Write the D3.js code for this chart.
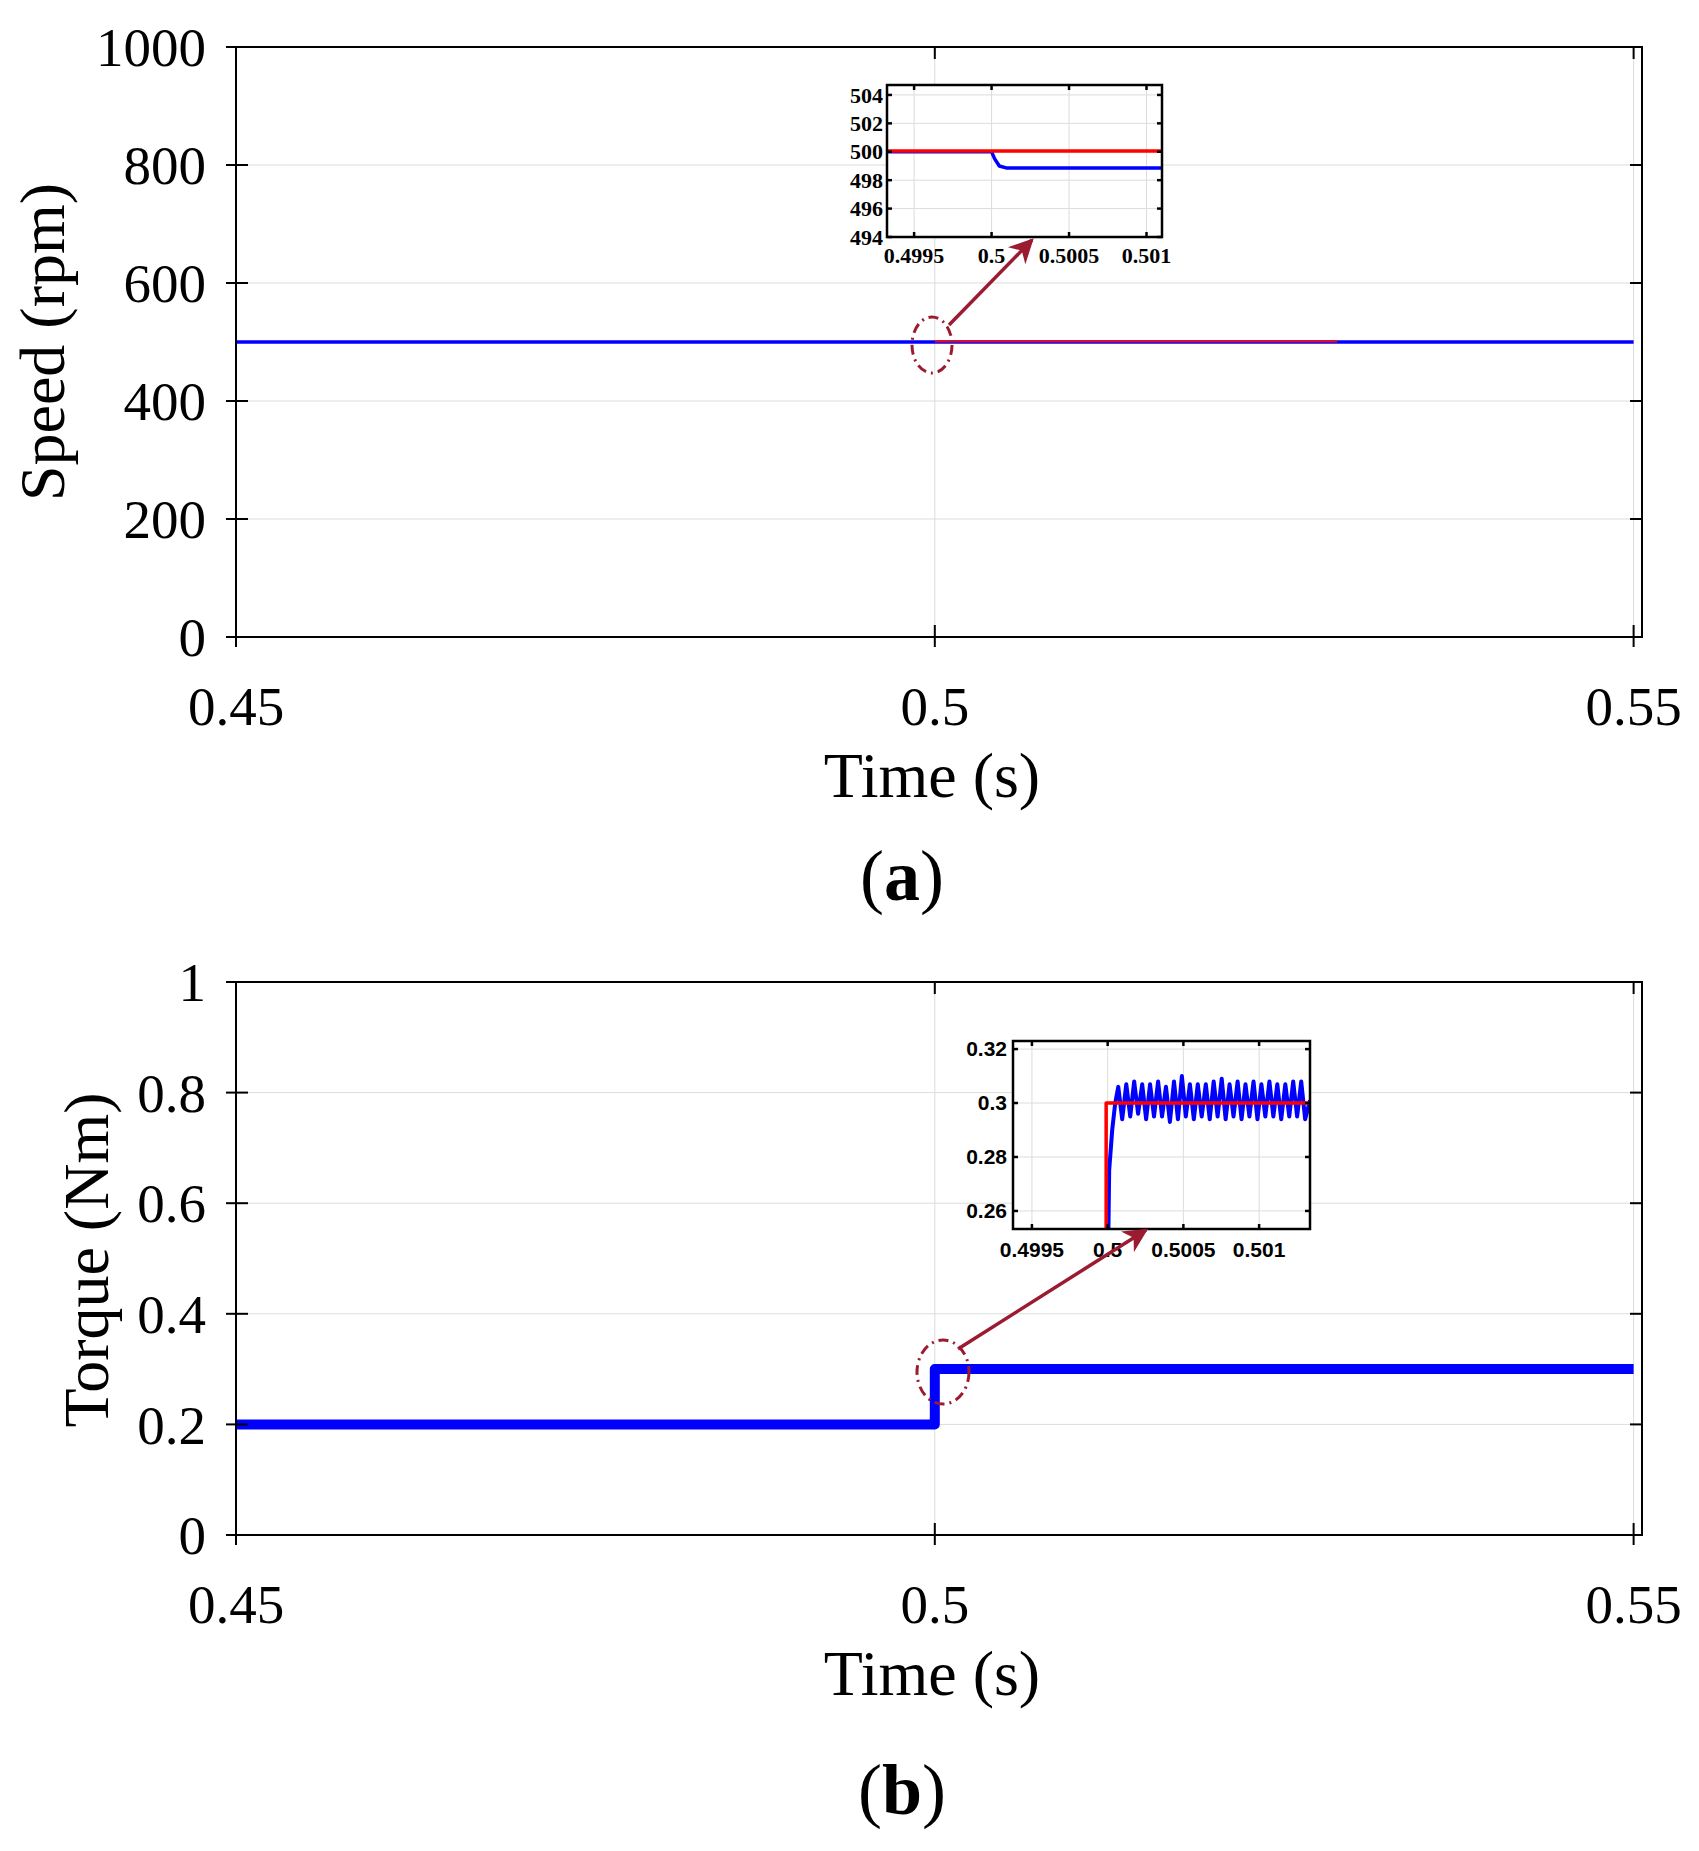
<!DOCTYPE html>
<html><head><meta charset="utf-8">
<script src="https://cdn.jsdelivr.net/npm/d3@7"></script>
<style>body{margin:0;background:#fff}</style>
</head><body>
<svg id="fig" width="1699" height="1851"></svg>
<script>
// ---- data ----
const xTicksMain = [0.45, 0.5, 0.55];
const speedTicks = [0, 200, 400, 600, 800, 1000];
const torqueTicks = [0, 0.2, 0.4, 0.6, 0.8, 1];
const speedBlue = [[0.45, 500], [0.55, 500]];
const speedRed = [[0.5, 501], [0.5288, 501]];
const torqueBlue = [[0.45, 0.2], [0.5, 0.2], [0.5, 0.3], [0.55, 0.3]];

const insetSpeedXTicks = [0.4995, 0.5, 0.5005, 0.501];
const insetSpeedYTicks = [494, 496, 498, 500, 502, 504];
const insetSpeedBlue = [[0.499325, 500], [0.5, 500], [0.50002, 499.5], [0.50005, 499.0], [0.5001, 498.85], [0.5011, 498.85]];
const insetSpeedRed = [[0.499325, 500.05], [0.5011, 500.05]];

const insetTorqueXTicks = [0.4995, 0.5, 0.5005, 0.501];
const insetTorqueYTicks = [0.26, 0.28, 0.3, 0.32];
const insetTorqueRed = [[0.49999, 0.25], [0.49999, 0.3], [0.501336, 0.3]];
const riseT = [0.500005, 0.50001, 0.50003, 0.50005];
const riseV = [0.253, 0.275, 0.29, 0.30];
const peakT = [0.500070,0.500123,0.500175,0.500228,0.500280,0.500333,0.500385,0.500438,0.500490,0.500543,0.500595,0.500648,0.500700,0.500753,0.500805,0.500858,0.500910,0.500963,0.501015,0.501068,0.501120,0.501173,0.501225,0.501278];
const peakV = [0.306,0.307,0.308,0.307,0.307,0.308,0.306,0.308,0.310,0.307,0.307,0.307,0.308,0.309,0.307,0.308,0.307,0.308,0.307,0.308,0.307,0.307,0.308,0.308];
const troughT = [0.500096,0.500149,0.500201,0.500254,0.500306,0.500359,0.500411,0.500464,0.500516,0.500569,0.500621,0.500674,0.500726,0.500779,0.500831,0.500884,0.500936,0.500989,0.501041,0.501094,0.501146,0.501199,0.501251,0.501304];
const troughV = [0.294,0.295,0.296,0.294,0.295,0.295,0.293,0.294,0.295,0.294,0.295,0.294,0.295,0.294,0.295,0.294,0.295,0.294,0.295,0.295,0.294,0.295,0.295,0.294];

const insetTorqueBlue = riseT.map((t, i) => [t, riseV[i]]);
peakT.forEach((t, i) => { insetTorqueBlue.push([t, peakV[i]]); insetTorqueBlue.push([troughT[i], troughV[i]]); });
insetTorqueBlue.push([0.501336, 0.301]);

const svg = d3.select("#fig");
const serif = "Liberation Serif, Times New Roman, serif";
const dark = "#9b1b30";

function panel(o) {
  const x = d3.scaleLinear().domain(o.xd).range([o.l, o.r]);
  const y = d3.scaleLinear().domain(o.yd).range([o.b, o.t]);
  const g = svg.append("g");
  // grid
  g.selectAll(null).data(o.xt).join("line")
    .attr("x1", d => x(d)).attr("x2", d => x(d)).attr("y1", o.t).attr("y2", o.b)
    .attr("stroke", "#dcdcdc").attr("stroke-width", o.gw || 1);
  g.selectAll(null).data(o.yt).join("line")
    .attr("y1", d => y(d)).attr("y2", d => y(d)).attr("x1", o.l).attr("x2", o.r)
    .attr("stroke", "#dcdcdc").attr("stroke-width", o.gw || 1);
  const line = d3.line().x(d => x(d[0])).y(d => y(d[1]));
  g.append("defs").append("clipPath").attr("id", o.id)
    .append("rect").attr("x", o.l).attr("y", o.t).attr("width", o.r - o.l).attr("height", o.b - o.t);
  const c = g.append("g").attr("clip-path", `url(#${o.id})`);
  o.series.forEach(s => c.append("path").attr("d", line(s.d)).attr("fill", "none")
    .attr("stroke", s.c).attr("stroke-width", s.w).attr("stroke-linejoin", "round"));
  // frame and ticks
  const tk = o.tk;
  g.append("rect").attr("x", o.l).attr("y", o.t).attr("width", o.r - o.l).attr("height", o.b - o.t)
    .attr("fill", "none").attr("stroke", "#000").attr("stroke-width", o.fw);
  o.xt.forEach(d => {
    g.append("line").attr("x1", x(d)).attr("x2", x(d)).attr("y1", o.b + (o.outX || 0)).attr("y2", o.b - tk).attr("stroke", "#000").attr("stroke-width", o.fw);
    g.append("line").attr("x1", x(d)).attr("x2", x(d)).attr("y1", o.t).attr("y2", o.t + tk).attr("stroke", "#000").attr("stroke-width", o.fw);
    g.append("text").attr("x", x(d)).attr("y", o.b + o.xlo).attr("text-anchor", "middle")
      .attr("font-family", o.font).attr("font-size", o.fs).attr("font-weight", o.fwt || "normal").text(o.xf ? o.xf(d) : d);
  });
  o.yt.forEach(d => {
    g.append("line").attr("x1", o.l - (o.outY || 0)).attr("x2", o.l + tk).attr("y1", y(d)).attr("y2", y(d)).attr("stroke", "#000").attr("stroke-width", o.fw);
    g.append("line").attr("x1", o.r).attr("x2", o.r - tk).attr("y1", y(d)).attr("y2", y(d)).attr("stroke", "#000").attr("stroke-width", o.fw);
    g.append("text").attr("x", o.l - o.ylo).attr("y", y(d)).attr("dy", "0.35em").attr("text-anchor", "end")
      .attr("font-family", o.font).attr("font-size", o.fs).attr("font-weight", o.fwt || "normal").text(o.yf ? o.yf(d) : d);
  });
  return { x, y };
}

// ---- panel (a) ----
panel({ id: "ca", xd: [0.45, 0.5506], yd: [0, 1000], l: 236, r: 1642, t: 47, b: 637,
  xt: xTicksMain, yt: speedTicks, tk: 12, fw: 2, outX: 10, outY: 10, font: serif, fs: 55,
  xlo: 88, ylo: 30,
  series: [{ d: speedBlue, c: "#0000ff", w: 3.5 }, { d: speedRed, c: "#ff0000", w: 2 }] });

// ---- panel (b) ----
panel({ id: "cb", xd: [0.45, 0.5506], yd: [0, 1], l: 236, r: 1642, t: 982, b: 1535,
  xt: xTicksMain, yt: torqueTicks, tk: 12, fw: 2, outX: 10, outY: 10, font: serif, fs: 55,
  xlo: 88, ylo: 30,
  series: [{ d: torqueBlue, c: "#0000ff", w: 10 }] });

// axis titles
function txt(x, y, s, fs, rot) {
  const t = svg.append("text").attr("x", x).attr("y", y).attr("text-anchor", "middle")
    .attr("font-family", serif).attr("font-size", fs).text(s);
  if (rot) t.attr("transform", `rotate(-90,${x},${y})`);
}
txt(932, 797, "Time (s)", 64);
txt(932, 1695, "Time (s)", 64);
txt(64, 342, "Speed (rpm)", 64, true);
txt(108, 1260, "Torque (Nm)", 64, true);
svg.append("text").attr("x", 902).attr("y", 900).attr("text-anchor", "middle").attr("font-family", serif)
  .attr("font-size", 72).text("(").append("tspan").attr("font-weight", "bold").text("a").append("tspan").attr("font-weight", "normal").text(")");
svg.append("text").attr("x", 902).attr("y", 1814).attr("text-anchor", "middle").attr("font-family", serif)
  .attr("font-size", 72).text("(").append("tspan").attr("font-weight", "bold").text("b").append("tspan").attr("font-weight", "normal").text(")");

// ---- insets ----
svg.append("rect").attr("x", 887).attr("y", 85).attr("width", 275).attr("height", 152).attr("fill", "#fff");
panel({ id: "ia", xd: [0.499325, 0.5011], yd: [494, 504.7], l: 887, r: 1162, t: 85, b: 237,
  xt: insetSpeedXTicks, yt: insetSpeedYTicks, tk: 5, fw: 2.5, font: serif, fs: 22, fwt: "bold",
  xlo: 26, ylo: 4,
  series: [{ d: insetSpeedBlue, c: "#0000ff", w: 3.5 }, { d: insetSpeedRed, c: "#ff0000", w: 3.5 }] });

svg.append("rect").attr("x", 1013).attr("y", 1041).attr("width", 297).attr("height", 188).attr("fill", "#fff");
panel({ id: "ib", xd: [0.499375, 0.501336], yd: [0.2533, 0.323], l: 1013, r: 1310, t: 1041, b: 1229,
  xt: insetTorqueXTicks, yt: insetTorqueYTicks, tk: 5, fw: 2.5, font: "Liberation Sans, Arial, sans-serif", fs: 21, fwt: "bold",
  xlo: 28, ylo: 6,
  series: [{ d: insetTorqueBlue, c: "#0000ff", w: 4 }, { d: insetTorqueRed, c: "#ff0000", w: 3.5 }] });

// ---- callout circles and arrows ----
svg.append("defs").append("marker").attr("id", "ah").attr("viewBox", "0 0 10 10").attr("refX", 9).attr("refY", 5)
  .attr("markerWidth", 7).attr("markerHeight", 7).attr("orient", "auto")
  .append("path").attr("d", "M0,0L10,5L0,10L3,5z").attr("fill", dark);
function callout(cx, cy, rx, ry, x1, y1, x2, y2) {
  svg.append("ellipse").attr("cx", cx).attr("cy", cy).attr("rx", rx).attr("ry", ry).attr("fill", "none")
    .attr("stroke", dark).attr("stroke-width", 3).attr("stroke-dasharray", "10,5,2,5");
  svg.append("line").attr("x1", x1).attr("y1", y1).attr("x2", x2).attr("y2", y2)
    .attr("stroke", dark).attr("stroke-width", 3.5).attr("marker-end", "url(#ah)");
}
callout(932, 345, 20, 28, 949, 325, 1032, 240);
callout(943, 1372, 26, 32, 958, 1349, 1146, 1230);
</script>
</body></html>
